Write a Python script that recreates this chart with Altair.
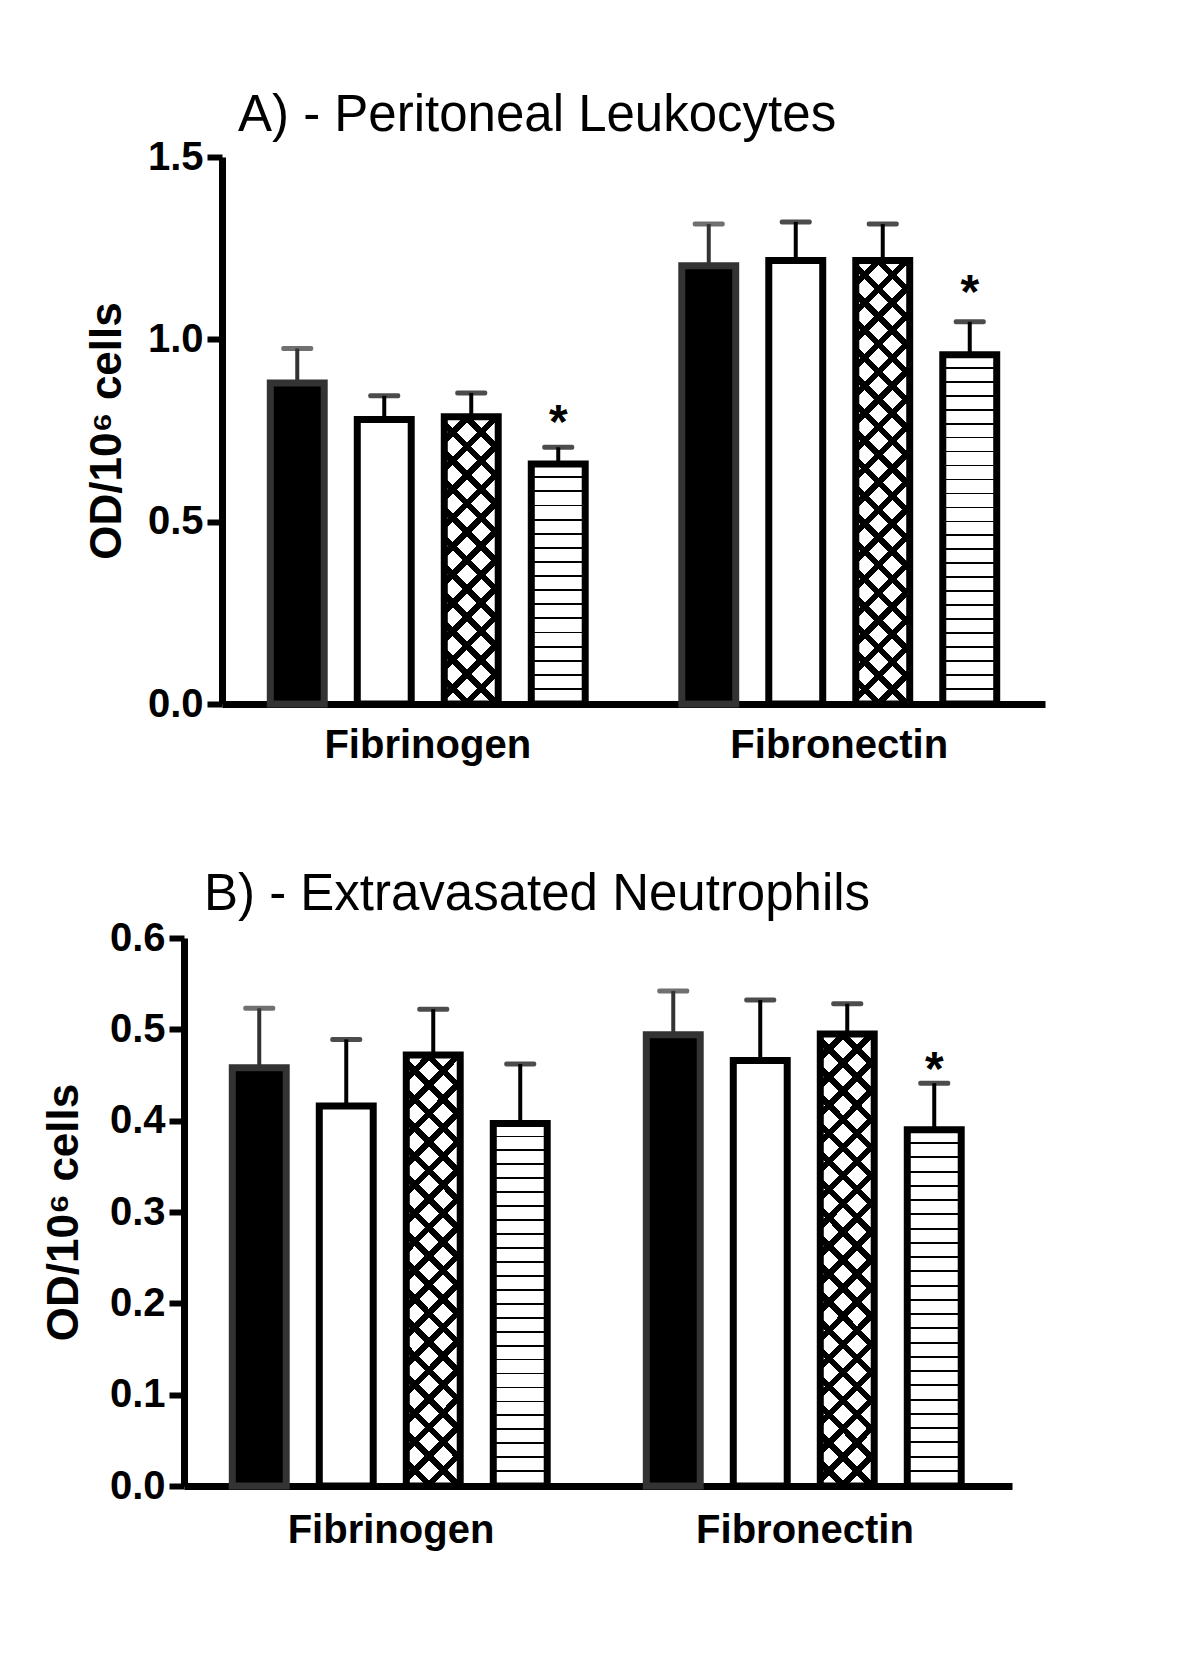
import math
import altair as alt
import pandas as pd

FONT = "Liberation Sans"

groups = ["Fibrinogen", "Fibronectin"]
series = ["Group 1", "Group 2", "Group 3", "Group 4"]

# Panel A - Peritoneal Leukocytes (order: Fibrinogen x4, Fibronectin x4)
a_mean = [0.880, 0.780, 0.788, 0.658, 1.202, 1.216, 1.216, 0.958]
a_err = [0.975, 0.845, 0.853, 0.704, 1.316, 1.322, 1.316, 1.048]
a_star = [None, None, None, 0.794, None, None, None, 1.151]
a_ticks = [0.0, 0.5, 1.0, 1.5]

# Panel B - Extravasated Neutrophils
b_mean = [0.458, 0.416, 0.472, 0.397, 0.494, 0.466, 0.495, 0.390]
b_err = [0.523, 0.489, 0.522, 0.462, 0.542, 0.532, 0.528, 0.441]
b_star = [None, None, None, None, None, None, None, 0.465]
b_ticks = [0.0, 0.1, 0.2, 0.3, 0.4, 0.5, 0.6]

PAD_IN = 0.38
PAD_OUT = 0.555


def stripe_fill(H):
    n = max(1, round(H / 14.0))
    f = 0.13
    stops = []
    for i in range(n):
        a, b, c = i / n, (i + 1 - f) / n, (i + 1) / n
        stops += [{"offset": a, "color": "white"}, {"offset": b, "color": "white"},
                  {"offset": b, "color": "black"}, {"offset": c, "color": "black"}]
    return {"gradient": "linear", "x1": 0, "y1": 0, "x2": 0, "y2": 1, "stops": stops}


def cross_fill(W, H, direction, bg):
    P = 28.0 / math.sqrt(2)
    n = max(1, round((W + H) / math.sqrt(2) / P))
    f = 6.0 / P
    k = (W + H) / (W * W + H * H)
    if direction == 0:
        x1, y1, x2, y2 = 0, 0, k * W, k * H
    else:
        x1, y1, x2, y2 = 0, 1, k * W, 1 - k * H
    stops = []
    for i in range(n):
        a, b, c = i / n, (i + 1 - f) / n, (i + 1) / n
        stops += [{"offset": a, "color": bg}, {"offset": b, "color": bg},
                  {"offset": b, "color": "black"}, {"offset": c, "color": "black"}]
    return {"gradient": "linear", "x1": x1, "y1": y1, "x2": x2, "y2": y2, "stops": stops}


def make_panel(mean, err, star, ticks, title, width, height, title_dx, title_offset,
               label_pad, title_pad):
    ymax = ticks[-1]
    rows = []
    for gi, g in enumerate(groups):
        for si, s in enumerate(series):
            i = gi * 4 + si
            rows.append({"group": g, "series": s, "mean": mean[i], "err": err[i]})
    df = pd.DataFrame(rows)
    star_rows = []
    for gi, g in enumerate(groups):
        for si, s in enumerate(series):
            v = star[gi * 4 + si]
            if v is not None:
                star_rows.append({"group": g, "series": s, "star": v})
    sdf = pd.DataFrame(star_rows)

    x = alt.X("group:N", sort=groups,
              scale=alt.Scale(paddingInner=0, paddingOuter=0),
              axis=alt.Axis(title=None, labelAngle=0, ticks=False, tickSize=0,
                            domainWidth=7, domainColor="black", labelLimit=0,
                            labelFont=FONT, labelFontSize=40, labelFontWeight="bold",
                            labelColor="black", labelPadding=label_pad, labelBaseline="top"))
    xo = alt.XOffset("series:N", sort=series,
                     scale=alt.Scale(paddingInner=PAD_IN, paddingOuter=PAD_OUT))
    yaxis = alt.Axis(values=ticks, format=".1f", title="OD/10⁶ cells", grid=False,
                     domainWidth=7, domainColor="black", tickColor="black",
                     tickWidth=6, tickSize=15, labelFont=FONT, labelFontSize=40,
                     labelFontWeight="bold", labelColor="black", labelPadding=4,
                     titleFont=FONT, titleFontSize=44, titleFontWeight="bold",
                     titleColor="black", titlePadding=title_pad)
    yscale = alt.Scale(domain=[0, ymax], nice=False, zero=True)
    y = alt.Y("mean:Q", scale=yscale, axis=yaxis)

    base = alt.Chart(df)
    step_x = width / 2.0
    step_o = step_x / (4 - PAD_IN + 2 * PAD_OUT)
    W = step_o * (1 - PAD_IN)
    pxu = height / ymax

    layers = []
    layers.append(base.transform_filter(alt.datum.series == series[0])
                  .mark_bar(fill="black", stroke="#333333", strokeWidth=7)
                  .encode(x=x, xOffset=xo, y=y))
    layers.append(base.transform_filter(alt.datum.series == series[1])
                  .mark_bar(fill="white", stroke="black", strokeWidth=7)
                  .encode(x=x, xOffset=xo, y=y))
    for gi, g in enumerate(groups):
        H3 = mean[gi * 4 + 2] * pxu
        sub = base.transform_filter((alt.datum.series == series[2]) & (alt.datum.group == g))
        layers.append(sub.mark_bar(fill=cross_fill(W, H3, 0, "white"), strokeWidth=0)
                      .encode(x=x, xOffset=xo, y=y))
        layers.append(sub.mark_bar(fill=cross_fill(W, H3, 1, "rgba(255,255,255,0)"),
                                   stroke="black", strokeWidth=7)
                      .encode(x=x, xOffset=xo, y=y))
        H4 = mean[gi * 4 + 3] * pxu
        sub4 = base.transform_filter((alt.datum.series == series[3]) & (alt.datum.group == g))
        layers.append(sub4.mark_bar(fill=stripe_fill(H4), stroke="black", strokeWidth=7)
                      .encode(x=x, xOffset=xo, y=y))

    col = alt.Color("series:N", scale=alt.Scale(domain=series,
                    range=["#333333", "black", "black", "black"]), legend=None)
    layers.append(base.mark_rule(strokeWidth=4)
                  .encode(x=x, xOffset=xo, y=y, y2="err:Q", color=col))
    layers.append(base.mark_tick(orient="horizontal", size=32, thickness=5, cornerRadius=2)
                  .encode(x=x, xOffset=xo,
                          y=alt.Y("err:Q", scale=yscale, axis=yaxis), color=col))
    layers.append(alt.Chart(sdf).mark_text(text="*", font=FONT, fontSize=48, fontWeight="bold",
                                           color="black", baseline="middle", dy=10)
                  .encode(x=x, xOffset=xo, y=alt.Y("star:Q", scale=yscale, axis=yaxis)))

    return alt.layer(*layers).properties(
        width=width, height=height,
        view=alt.ViewBackground(stroke="transparent", strokeWidth=0),
        title=alt.TitleParams(text=title, anchor="start", frame="group", dx=title_dx,
                              offset=title_offset, font=FONT, fontSize=51,
                              fontWeight="normal", color="black", baseline="alphabetic"),
    )


panel_a = make_panel(a_mean, a_err, a_star, a_ticks, "A) - Peritoneal Leukocytes",
                     823, 547, 16, -45, 21, 18)
panel_b = make_panel(b_mean, b_err, b_star, b_ticks, "B) - Extravasated Neutrophils",
                     828, 548, 20, -43, 24, 23)

# empty spacer that shifts panel A to the right of panel B
spacer = (alt.Chart(pd.DataFrame({"p": [0]})).mark_point(opacity=0)
          .encode(x=alt.value(0), y=alt.value(0))
          .properties(width=20, height=1,
                      view=alt.ViewBackground(stroke="transparent", strokeWidth=0)))

row_a = alt.hconcat(spacer, panel_a, spacing=18, bounds="flush")

chart = (alt.vconcat(row_a, panel_b, spacing=104)
         .properties(padding={"left": 34, "top": 82, "right": 5, "bottom": 5})
         .configure(font=FONT, background="white")
         .configure_view(strokeWidth=0, stroke="transparent"))

chart.save("out.html", embed_options={"renderer": "svg", "actions": False})
